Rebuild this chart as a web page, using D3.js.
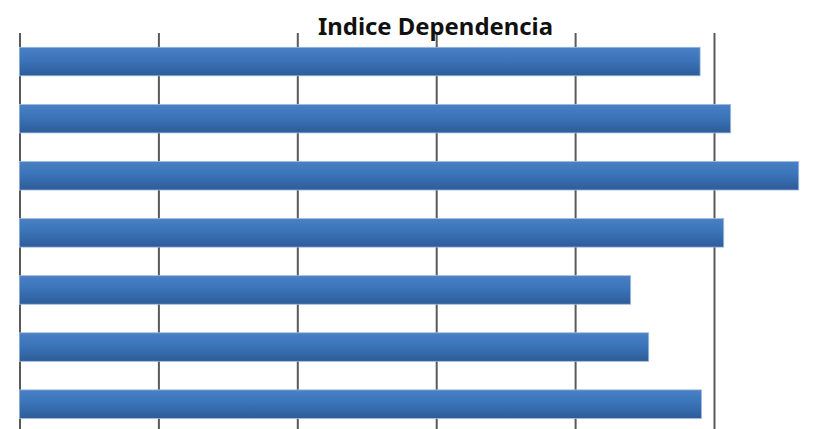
<!DOCTYPE html>
<html lang="en">
<head>
  <meta charset="UTF-8">
  <title>Indice Dependencia</title>
  <script src="https://d3js.org/d3.v7.min.js"></script>
  <style>
    body { margin: 0; background: #fff; }
    .grid line { stroke: #5a5a5a; stroke-width: 2px; }
    .grid .domain { display: none; }
    .grid text { display: none; }
    .title { font: bold 24px "Noto Sans", sans-serif; fill: #111; }
  </style>
</head>
<body>
  <div id="chart"></div>
  <script>
    const width = 837, height = 429;

    // data (no category labels are shown)
    const categories = ["1", "2", "3", "4", "5", "6", "7"];
    const values = [49.0, 51.2, 56.1, 50.7, 44.0, 45.3, 49.1];
    const gridTicks = [0, 10, 20, 30, 40, 50];

    const svg = d3.select("#chart").append("svg")
      .attr("width", width)
      .attr("height", height);

    const defs = svg.append("defs");
    const grad = defs.append("linearGradient")
      .attr("id", "barGrad")
      .attr("x1", 0).attr("y1", 0).attr("x2", 0).attr("y2", 1);
    grad.append("stop").attr("offset", "0%").attr("stop-color", "#4a80c4");
    grad.append("stop").attr("offset", "45%").attr("stop-color", "#3b74b9");
    grad.append("stop").attr("offset", "100%").attr("stop-color", "#2d5c98");

    const x = d3.scaleLinear()
      .domain([0, 60])
      .range([19.5, 852.9]);

    const y = d3.scaleBand()
      .domain(categories)
      .range([33, 432.7])
      .paddingInner(0.5)
      .paddingOuter(0.25);

    // vertical gridlines
    svg.append("g")
      .attr("class", "grid")
      .attr("transform", `translate(0,${y.range()[0]})`)
      .call(d3.axisBottom(x)
        .tickValues(gridTicks)
        .tickSize(y.range()[1] - y.range()[0])
        .tickFormat(""));

    // bars
    svg.append("g")
      .selectAll("rect")
      .data(values)
      .enter().append("rect")
      .attr("x", x(0))
      .attr("y", (d, i) => y(categories[i]))
      .attr("width", d => x(d) - x(0))
      .attr("height", y.bandwidth())
      .attr("fill", "url(#barGrad)")
      .attr("stroke", "#9fbbe0")
      .attr("stroke-width", 0.8);

    // title
    svg.append("text")
      .attr("class", "title")
      .attr("x", 435.5)
      .attr("y", 35)
      .attr("text-anchor", "middle")
      .attr("textLength", 235)
      .attr("lengthAdjust", "spacingAndGlyphs")
      .text("Indice Dependencia");
  </script>
</body>
</html>
